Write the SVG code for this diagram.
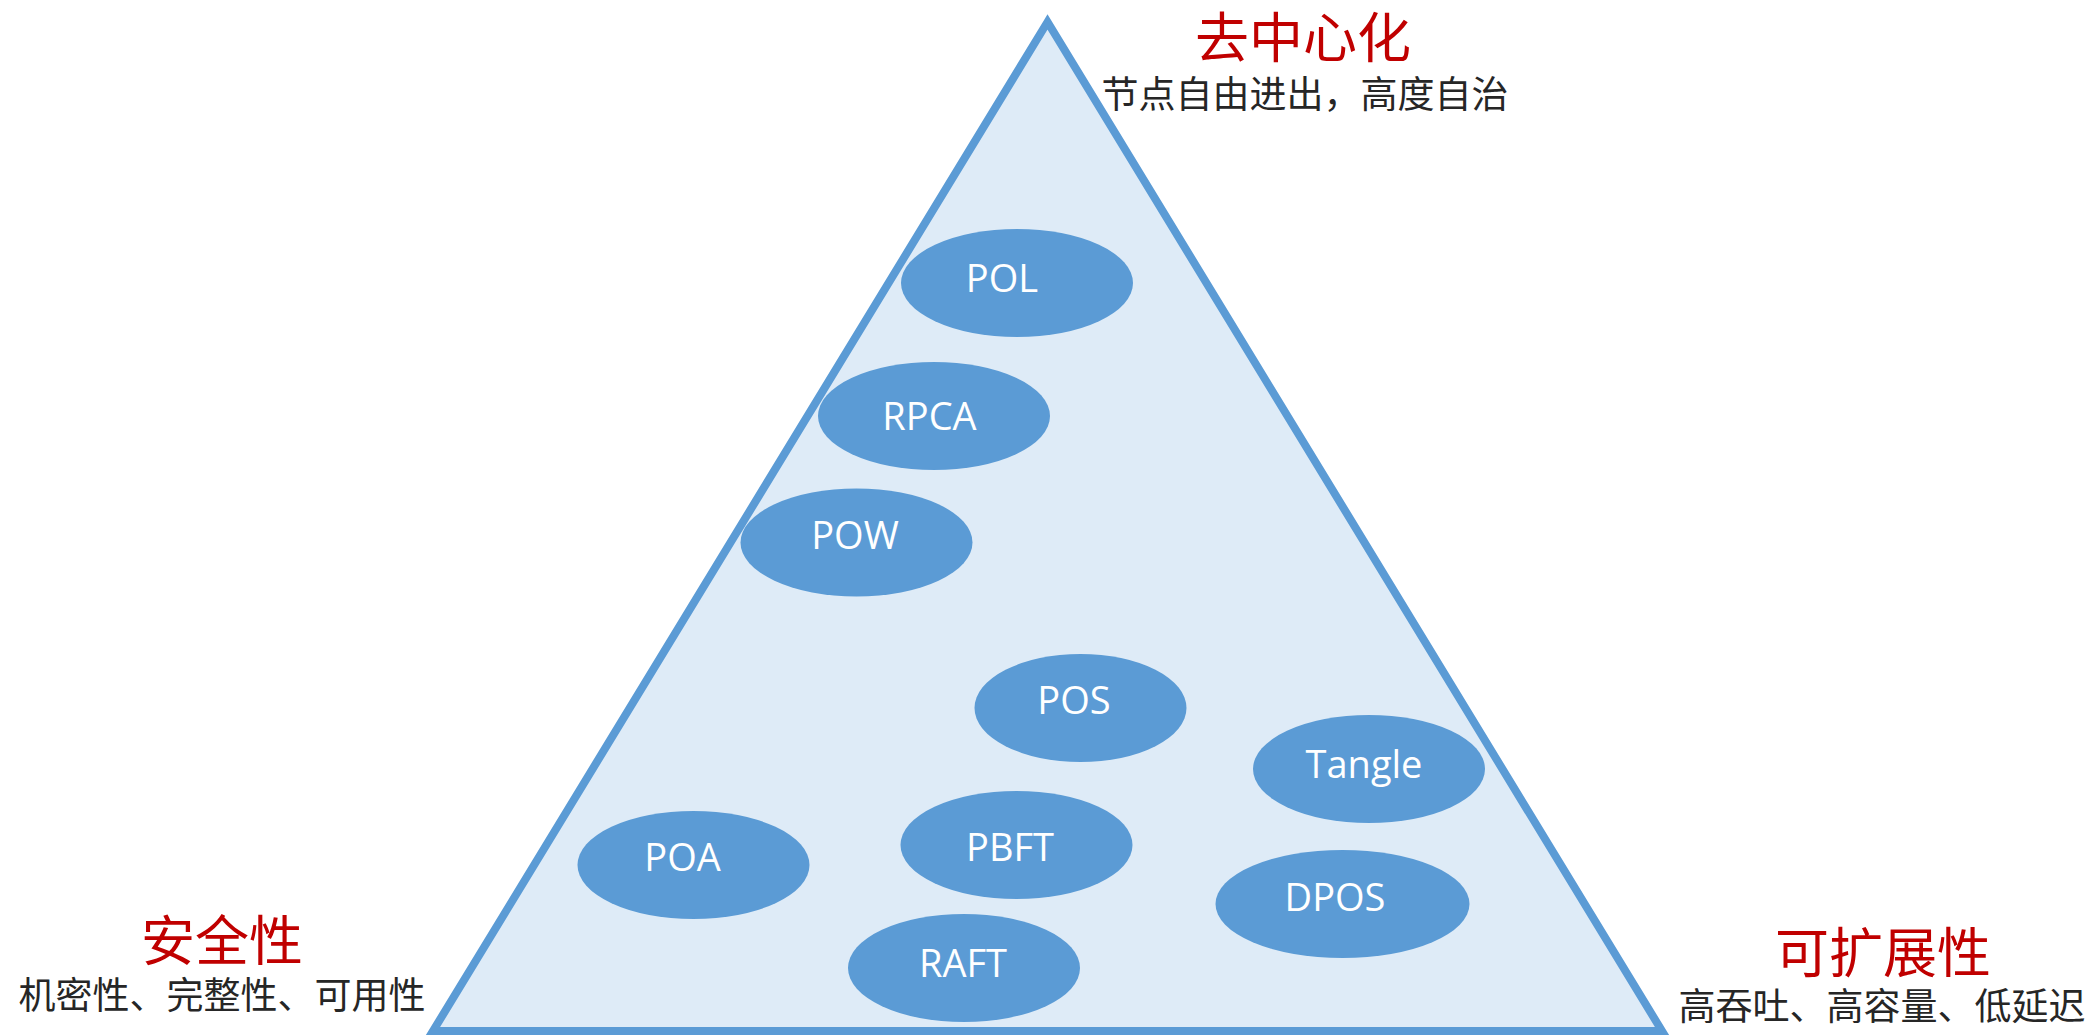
<svg xmlns="http://www.w3.org/2000/svg" width="2089" height="1035" viewBox="0 0 2089 1035">
<style>
.tri{fill:#DEEBF7;stroke:#5B9BD5;stroke-width:8;stroke-linejoin:miter}
.node ellipse{fill:#5B9BD5}
.node text{fill:#FFFFFF;font-family:"Open Sans","Noto Sans",sans-serif;font-size:38px;text-anchor:middle}
.title{fill:#C00000;font-family:"Noto Sans CJK SC",sans-serif;font-size:54px;text-anchor:middle}
.sub{fill:#262626;font-family:"Noto Sans CJK SC",sans-serif;font-size:37px;text-anchor:middle}
</style>
<rect width="2089" height="1035" fill="#FFFFFF"/>
<g id="triangle">
<polygon class="tri" points="1047.5,22 433,1031 1662,1031"/>
</g>
<g id="labels">
<text class="title" x="1303" y="58">去中心化</text>
<text class="sub" x="1305" y="108">节点自由进出，高度自治</text>
<text class="title" x="222" y="961">安全性</text>
<text class="sub" x="222" y="1009">机密性、完整性、可用性</text>
<text class="title" x="1883" y="973">可扩展性</text>
<text class="sub" x="1882" y="1020">高吞吐、高容量、低延迟</text>
</g>
<g id="connectors"></g>
<g id="node-pol" class="node"><ellipse cx="1017" cy="283" rx="116" ry="54"/><text x="1002" y="292">POL</text></g>
<g id="node-rpca" class="node"><ellipse cx="934" cy="416" rx="116" ry="54"/><text x="929.5" y="430">RPCA</text></g>
<g id="node-pow" class="node"><ellipse cx="856.5" cy="542.5" rx="116" ry="54"/><text x="855" y="549">POW</text></g>
<g id="node-pos" class="node"><ellipse cx="1080.5" cy="708" rx="106" ry="54"/><text x="1074" y="714">POS</text></g>
<g id="node-tangle" class="node"><ellipse cx="1369" cy="769" rx="116" ry="54"/><text x="1364" y="778">Tangle</text></g>
<g id="node-poa" class="node"><ellipse cx="693.5" cy="865" rx="116" ry="54"/><text x="682.5" y="871">POA</text></g>
<g id="node-pbft" class="node"><ellipse cx="1016.5" cy="845" rx="116" ry="54"/><text x="1010" y="861">PBFT</text></g>
<g id="node-dpos" class="node"><ellipse cx="1342.5" cy="904" rx="127" ry="54"/><text x="1335" y="911">DPOS</text></g>
<g id="node-raft" class="node"><ellipse cx="964" cy="968" rx="116" ry="54"/><text x="963" y="977">RAFT</text></g>
</svg>
